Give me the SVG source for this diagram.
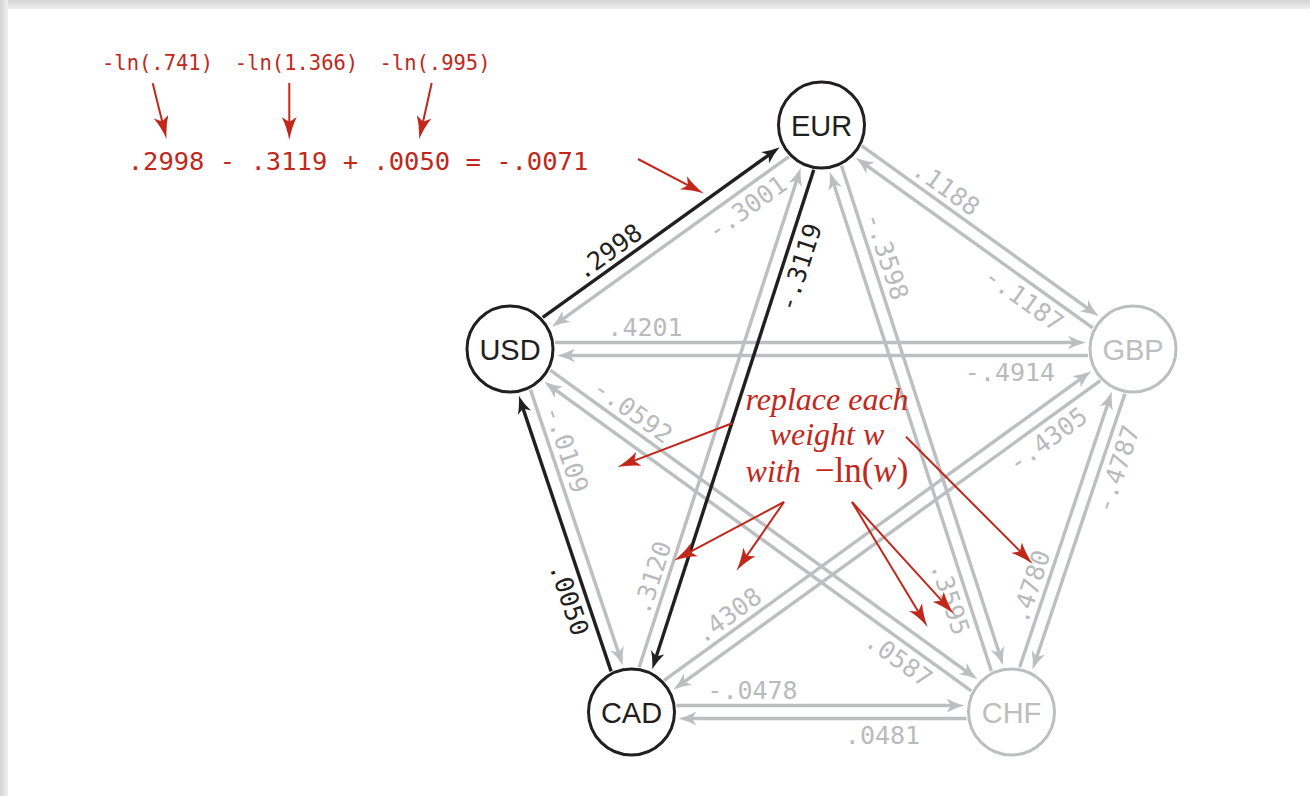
<svg xmlns="http://www.w3.org/2000/svg" width="1310" height="796" viewBox="0 0 1310 796">
<defs>
<linearGradient id="gTop" x1="0" y1="0" x2="0" y2="1"><stop offset="0" stop-color="#d4d4d4"/><stop offset="1" stop-color="#f0f0f0"/></linearGradient>
<linearGradient id="gLeft" x1="0" y1="0" x2="1" y2="0"><stop offset="0" stop-color="#d4d4d4"/><stop offset="1" stop-color="#f0f0f0"/></linearGradient>
<marker id="ag" markerUnits="userSpaceOnUse" viewBox="0 -7 18 14" markerWidth="18" markerHeight="14" refX="8" refY="0" orient="auto"><path d="M18,0 Q8,-2.5 0,-7 L4.5,0 L0,7 Q8,2.5 18,0 Z" fill="#bcbec0"/></marker>
<marker id="ak" markerUnits="userSpaceOnUse" viewBox="0 -7 18 14" markerWidth="18" markerHeight="14" refX="8" refY="0" orient="auto"><path d="M18,0 Q8,-2.5 0,-7 L4.5,0 L0,7 Q8,2.5 18,0 Z" fill="#231f20"/></marker>
<marker id="ar" markerUnits="userSpaceOnUse" viewBox="0 -7.5 23 15" markerWidth="23" markerHeight="15" refX="14" refY="0" orient="auto"><path d="M23,0 Q10,-2.5 0,-7.5 L5,0 L0,7.5 Q10,2.5 23,0 Z" fill="#c1281b"/></marker>
</defs>
<style>
.g{stroke:#bcbec0;stroke-width:3.4;fill:none;marker-end:url(#ag)}
.k{stroke:#231f20;stroke-width:3.4;fill:none;marker-end:url(#ak)}
.r{stroke:#c1281b;stroke-width:2;fill:none;marker-end:url(#ar)}
.lbl{font-family:"DejaVu Sans Mono","Liberation Mono",monospace;font-size:25px;text-anchor:middle;fill:#b9babd}
.lk{fill:#231f20}
.nc{fill:#fff;stroke-width:3}
.nt{font-family:"Liberation Sans",Arial,sans-serif;font-size:29px;text-anchor:middle}
.red{font-family:"DejaVu Sans Mono","Liberation Mono",monospace;fill:#c1281b;text-anchor:middle}
.note{font-family:"Liberation Serif","Times New Roman",serif;font-size:32px;font-style:italic;fill:#c1281b;text-anchor:middle}
.big{font-size:35px}
</style>
<rect width="1310" height="796" fill="#fff"/>
<rect x="0" y="0" width="1310" height="9" fill="url(#gTop)"/>
<rect x="0" y="0" width="8" height="796" fill="url(#gLeft)"/>

<g id="connectors">
<g id="e-USD-EUR" transform="translate(510,349) rotate(-35.71)">
<line class="k" x1="45" y1="-6.5" x2="326.7" y2="-6.5"/>
<line class="g" x1="338.7" y1="6.5" x2="57" y2="6.5"/>
<text class="lbl lk" x="137" y="-13">.2998</text>
<text class="lbl" x="275" y="32">-.3001</text>
</g>
<g id="e-USD-GBP" transform="translate(510,349)">
<line class="g" x1="45" y1="-6.5" x2="566" y2="-6.5"/>
<line class="g" x1="578" y1="6.5" x2="57" y2="6.5"/>
<text class="lbl" x="135" y="-13">.4201</text>
<text class="lbl" x="500" y="32">-.4914</text>
</g>
<g id="e-USD-CHF" transform="translate(510,349) rotate(35.9)">
<line class="g" x1="45" y1="-6.5" x2="562.1" y2="-6.5"/>
<line class="g" x1="574.1" y1="6.5" x2="57" y2="6.5"/>
<text class="lbl" x="136" y="-13">-.0592</text>
<text class="lbl" x="497" y="32">.0587</text>
</g>
<g id="e-USD-CAD" transform="translate(510,349) rotate(71.49)">
<line class="g" x1="45" y1="-6.5" x2="325.8" y2="-6.5"/>
<line class="k" x1="337.8" y1="6.5" x2="57" y2="6.5"/>
<text class="lbl" x="113" y="-13">-.0109</text>
<text class="lbl lk" x="256" y="32">.0050</text>
</g>
<g id="e-CAD-EUR" transform="translate(631.5,712) rotate(-72.07)">
<line class="g" x1="45" y1="-6.5" x2="560" y2="-6.5"/>
<line class="k" x1="572" y1="6.5" x2="57" y2="6.5"/>
<text class="lbl" x="134" y="-13">.3120</text>
<text class="lbl lk" x="475" y="32">-.3119</text>
</g>
<g id="e-CAD-GBP" transform="translate(631.5,712) rotate(-35.9)">
<line class="g" x1="45" y1="-6.5" x2="562.1" y2="-6.5"/>
<line class="g" x1="574.1" y1="6.5" x2="57" y2="6.5"/>
<text class="lbl" x="135" y="-13">.4308</text>
<text class="lbl" x="497" y="32">-.4305</text>
</g>
<g id="e-CAD-CHF" transform="translate(631.5,712)">
<line class="g" x1="45" y1="-6.5" x2="323" y2="-6.5"/>
<line class="g" x1="335" y1="6.5" x2="57" y2="6.5"/>
<text class="lbl" x="121" y="-13">-.0478</text>
<text class="lbl" x="251" y="32">.0481</text>
</g>
<g id="e-EUR-GBP" transform="translate(821.5,125) rotate(35.71)">
<line class="g" x1="45" y1="-6.5" x2="326.7" y2="-6.5"/>
<line class="g" x1="338.7" y1="6.5" x2="57" y2="6.5"/>
<text class="lbl" x="138" y="-13">.1188</text>
<text class="lbl" x="266" y="32">-.1187</text>
</g>
<g id="e-EUR-CHF" transform="translate(821.5,125) rotate(72.07)">
<line class="g" x1="45" y1="-6.5" x2="560" y2="-6.5"/>
<line class="g" x1="572" y1="6.5" x2="57" y2="6.5"/>
<text class="lbl" x="145" y="-13">-.3598</text>
<text class="lbl" x="490" y="32">.3595</text>
</g>
<g id="e-CHF-GBP" transform="translate(1011.5,712) rotate(-71.49)">
<line class="g" x1="45" y1="-6.5" x2="325.8" y2="-6.5"/>
<line class="g" x1="337.8" y1="6.5" x2="57" y2="6.5"/>
<text class="lbl" x="125" y="-13">.4780</text>
<text class="lbl" x="264" y="32">-.4787</text>
</g>
</g>

<g id="node-EUR"><circle class="nc" cx="821.5" cy="125" r="43" stroke="#231f20"/><text class="nt" x="821.5" y="135.5" fill="#231f20">EUR</text></g>
<g id="node-USD"><circle class="nc" cx="510" cy="349" r="43" stroke="#231f20"/><text class="nt" x="510" y="359.5" fill="#231f20">USD</text></g>
<g id="node-GBP"><circle class="nc" cx="1133" cy="349" r="43" stroke="#bcbec0"/><text class="nt" x="1133" y="359.5" fill="#bcbec0">GBP</text></g>
<g id="node-CAD"><circle class="nc" cx="631.5" cy="712" r="43" stroke="#231f20"/><text class="nt" x="631.5" y="722.5" fill="#231f20">CAD</text></g>
<g id="node-CHF"><circle class="nc" cx="1011.5" cy="712" r="43" stroke="#bcbec0"/><text class="nt" x="1011.5" y="722.5" fill="#bcbec0">CHF</text></g>

<g id="formula">
<text class="red" x="157.5" y="70" font-size="20.5">-ln(.741)</text>
<text class="red" x="296.5" y="70" font-size="20.5">-ln(1.366)</text>
<text class="red" x="435" y="70" font-size="20.5">-ln(.995)</text>
<text class="red" x="358" y="170" font-size="25.5">.2998 - .3119 + .0050 = -.0071</text>
<line class="r" x1="152.7" y1="83.3" x2="164.4" y2="130.2"/>
<line class="r" x1="289.3" y1="83" x2="289.3" y2="131"/>
<line class="r" x1="431.7" y1="83" x2="421.1" y2="130.5"/>
<line class="r" x1="638" y1="159" x2="695.9" y2="189.3"/>
</g>

<g id="note">
<text class="note" x="827" y="410">replace each</text>
<text class="note" x="827" y="445">weight w</text>
<text class="note" x="827" y="482">with<tspan dx="14" class="big" font-style="normal">−ln(</tspan><tspan class="big">w</tspan><tspan class="big" font-style="normal">)</tspan></text>
<line class="r" x1="732.3" y1="423.3" x2="625.8" y2="463.9"/>
<line class="r" x1="784" y1="502" x2="682.1" y2="556.2"/>
<line class="r" x1="784" y1="502" x2="741.5" y2="563.4"/>
<line class="r" x1="852" y1="502" x2="922.9" y2="619.2"/>
<line class="r" x1="852" y1="502" x2="947.6" y2="607.1"/>
<line class="r" x1="906" y1="436.7" x2="1026.4" y2="557.6"/>
</g>
</svg>
